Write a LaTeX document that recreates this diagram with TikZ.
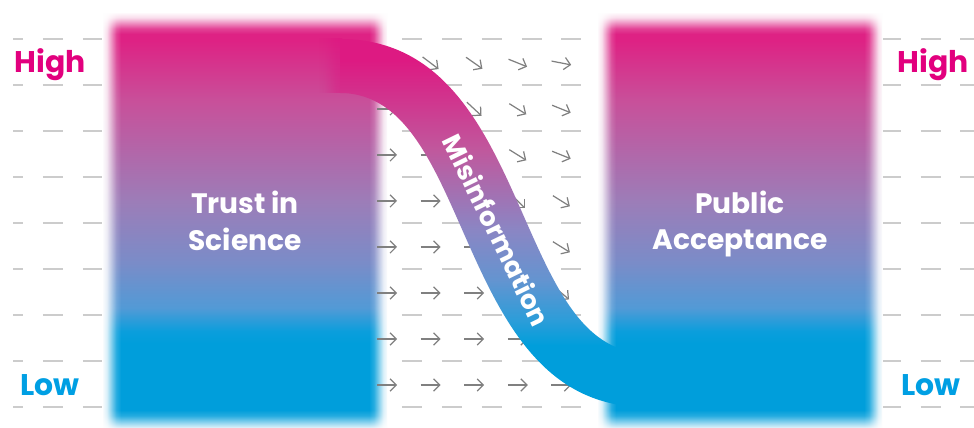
\documentclass[tikz,border=0pt]{standalone}
\usepackage{fontspec}
\setmainfont{Poppins}
\usetikzlibrary{positioning}
\usetikzlibrary{arrows.meta}
\usetikzlibrary{fadings}
\definecolor{hotpink}{RGB}{226,0,126}
\definecolor{skyblue}{RGB}{0,159,227}
\definecolor{magtop}{RGB}{222,34,132}
\definecolor{mag100}{RGB}{200,80,154}
\definecolor{lil200}{RGB}{156,125,184}
\definecolor{blu260}{RGB}{122,140,200}
\definecolor{blu305}{RGB}{82,154,214}
\definecolor{cyn328}{RGB}{10,158,220}
\definecolor{cynbot}{RGB}{0,158,219}
\definecolor{bandtop}{RGB}{221,26,130}
\definecolor{band150}{RGB}{192,88,157}
\definecolor{band230}{RGB}{138,134,196}
\definecolor{band280}{RGB}{100,148,208}
\definecolor{band320}{RGB}{44,157,217}
\colorlet{bandend}{bandtop!64!band150}
\pgfdeclareverticalshading{boxshade}{100bp}{color(0bp)=(cynbot); color(35.6bp)=(cynbot); color(37bp)=(cyn328); color(39.8bp)=(blu305); color(45.2bp)=(blu260); color(52.5bp)=(lil200); color(64.5bp)=(mag100); color(71.7bp)=(magtop); color(100bp)=(magtop)}
\pgfdeclareverticalshading{bandshade}{100bp}{color(0bp)=(cynbot); color(33.4bp)=(cynbot); color(36.8bp)=(band320); color(42.3bp)=(band280); color(49bp)=(band230); color(59.9bp)=(band150); color(72.1bp)=(bandtop); color(100bp)=(bandtop)}
% soft edge ramps (white = opaque)
\pgfdeclarehorizontalshading{rampE}{100bp}{color(0bp)=(white); color(25bp)=(white); color(37.5bp)=(white!85!black); color(50bp)=(white!50!black); color(62.5bp)=(white!15!black); color(75bp)=(black); color(100bp)=(black)}
\pgfdeclarehorizontalshading{rampW}{100bp}{color(0bp)=(black); color(25bp)=(black); color(37.5bp)=(white!15!black); color(50bp)=(white!50!black); color(62.5bp)=(white!85!black); color(75bp)=(white); color(100bp)=(white)}
\pgfdeclareverticalshading{rampS}{100bp}{color(0bp)=(black); color(25bp)=(black); color(37.5bp)=(white!15!black); color(50bp)=(white!50!black); color(62.5bp)=(white!85!black); color(75bp)=(white); color(100bp)=(white)}
\pgfdeclareverticalshading{rampN}{100bp}{color(0bp)=(white); color(25bp)=(white); color(37.5bp)=(white!85!black); color(50bp)=(white!50!black); color(62.5bp)=(white!15!black); color(75bp)=(black); color(100bp)=(black)}
\pgfdeclarefading{fadeE}{\pgfuseshading{rampE}}
\pgfdeclarefading{fadeW}{\pgfuseshading{rampW}}
\pgfdeclarefading{fadeS}{\pgfuseshading{rampS}}
\pgfdeclarefading{fadeN}{\pgfuseshading{rampN}}
\tikzset{
    gridline/.style = {draw=black!20, line width=0.6pt, dash pattern=on 0.4cm off 0.398cm, dash phase=0.2cm},
    flow/.style = {draw=black!50, line width=0.7pt, -{Straight Barb[length=3.5pt,width=7pt]}},
    level/.style = {font=\bfseries\fontsize{17}{20}\selectfont},
    highlbl/.style = {level, text=hotpink},
    lowlbl/.style = {level, text=skyblue},
    boxlbl/.style = {align=center, text=white, font=\bfseries\fontsize{16}{21}\selectfont},
    bandlbl/.style = {text=white, font=\bfseries\fontsize{15}{18}\selectfont, rotate=-64},
    softedge/.style = {fill=white, draw=none}
}

\begin{document}
\begin{tikzpicture}[x=0.02cm,y=-0.02cm]
\useasboundingbox (0,0) rectangle (974,428);
% grid
\foreach \k in {0,...,8}
  \draw[gridline] (13,39+46*\k) -- (974,39+46*\k);
%
% boxes
\foreach \bx in {103,598} {
  \shade[shading=boxshade] (\bx,13) rectangle (\bx+284,432);
  \fill[softedge, path fading=fadeE] (\bx-1,12) rectangle (\bx+18,433);
  \fill[softedge, path fading=fadeW] (\bx+266,12) rectangle (\bx+285,433);
  \fill[softedge, path fading=fadeS] (\bx-1,12) rectangle (\bx+285,34);
  \fill[softedge, path fading=fadeN] (\bx-1,410) rectangle (\bx+285,433);
}
%
% flow field
\foreach \row/\angs in {0/{0,37,35,22,11}, 1/{0,0,43,32,22}, 2/{0,0,0,32,22},
    3/{0,0,0,45,32}, 4/{0,0,0,0,32}, 5/{0,0,0,0,40}, 6/{0,0,0,0,0}, 7/{0,0,0,0,0}}
  \foreach \a [count=\col from 0] in \angs
    \draw[flow] ({387+43.6*\col-10*cos(\a)},{63+46*\row-10*sin(\a)}) -- ++(\a:20);
%
% band
\shade[top color=bandtop, bottom color=bandend, path fading=fadeW] (318,39) rectangle (342,93);
\shade[shading=bandshade] (340,39) .. controls (534.1,39) and (510.1,353) .. (646,353)
  -- (646,407) .. controls (451.9,407) and (475.9,93) .. (340,93) -- cycle;
%
\node[highlbl, anchor=base] at (50,73) (highL) {High};
\node[lowlbl, anchor=base] at (50,396) (lowL) {Low};
\node[highlbl, anchor=base] at (933,73) (highR) {High};
\node[lowlbl, anchor=base] at (931,396) (lowR) {Low};
\node[boxlbl] at (245,221) (trust) {Trust in\\Science};
\node[boxlbl] at (740,224) (public) {Public\\Acceptance};
\node[bandlbl] at (497,230) (misinfo) {Misinformation};
\end{tikzpicture}
\end{document}
